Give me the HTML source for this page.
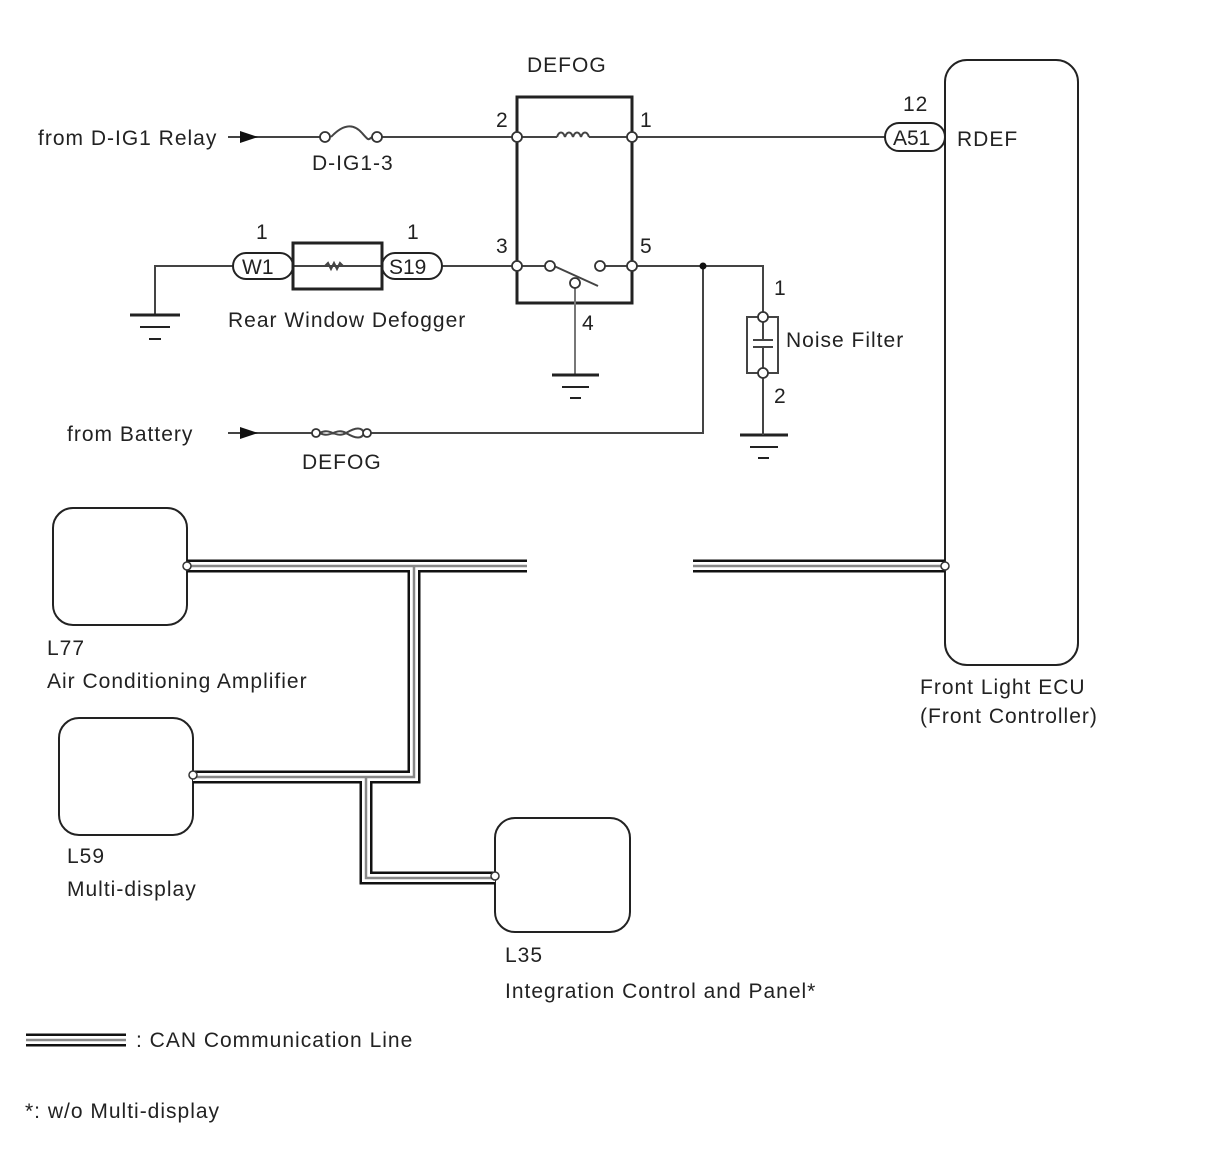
<!DOCTYPE html>
<html><head><meta charset="utf-8"><style>
html,body{margin:0;padding:0;background:#fff;}
svg{display:block;}
text{font-family:"Liberation Sans",Arial,sans-serif;font-size:21px;letter-spacing:1px;fill:#222;}
</style></head><body>
<svg width="1210" height="1156" viewBox="0 0 1210 1156" xmlns="http://www.w3.org/2000/svg">
<g fill="none" stroke="#444" stroke-width="2">
  <line x1="228" y1="137" x2="325" y2="137"/>
  <path d="M331 137 C345 122 355 125 362 133 S368 140 372 137"/>
  <line x1="382" y1="137" x2="513" y2="137"/>
  <line x1="521" y1="137" x2="557" y2="137"/>
  <path d="M557 137 c2-6 6-6 8 0 M565 137 c2-6 6-6 8 0 M573 137 c2-6 6-6 8 0 M581 137 c2-6 6-6 8 0"/>
  <line x1="589" y1="137" x2="628" y2="137"/>
  <line x1="636" y1="137" x2="885" y2="137"/>
  <rect x="517" y="97" width="115" height="206" stroke="#222" stroke-width="3"/>
  <path d="M155 315 V266 H233"/>
  <line x1="293" y1="266" x2="382" y2="266"/>
  <path d="M325 266 l3-3 3 6 3-6 3 6 3-6 3 3"/>
  <line x1="442" y1="266" x2="513" y2="266"/>
  <line x1="521" y1="266" x2="546" y2="266"/>
  <line x1="554" y1="266" x2="598" y2="286"/>
  <line x1="604" y1="266" x2="628" y2="266"/>
  <path d="M636 266 H763 V314"/>
  <path d="M575 287 V375" stroke="#777"/>
  <g stroke="#222">
    <line x1="130" y1="315" x2="180" y2="315" stroke-width="3"/>
    <line x1="140" y1="327" x2="170" y2="327"/>
    <line x1="149" y1="339" x2="161" y2="339"/>
    <line x1="552" y1="375" x2="599" y2="375" stroke-width="3"/>
    <line x1="562" y1="387" x2="589" y2="387"/>
    <line x1="570" y1="398" x2="581" y2="398"/>
    <line x1="740" y1="435" x2="788" y2="435" stroke-width="3"/>
    <line x1="750" y1="447" x2="778" y2="447"/>
    <line x1="758" y1="458" x2="769" y2="458"/>
  </g>
  <path d="M703 266 V433 H368"/>
  <line x1="228" y1="433" x2="315" y2="433"/>
  <path d="M320 433 c10-6 16 6 26 0 s16-6 18 0 M320 433 c10 6 16-6 26 0 s16 6 18 0"/>
  <path d="M763 377 V435"/>
  <path d="M759 317 H747 V373 H759 M767 317 H778 V373 H767"/>
  <path d="M763 322 V340 M753 340 H773 M753 347 H773 M763 347 V368"/>
  <rect x="233" y="253" width="60" height="26" rx="13" stroke="#222"/>
  <rect x="293" y="243" width="89" height="46" stroke="#222" stroke-width="3"/>
  <rect x="382" y="253" width="60" height="26" rx="13" stroke="#222"/>
  <rect x="885" y="123" width="60" height="28" rx="14" stroke="#222"/>
  <rect x="945" y="60" width="133" height="605" rx="22" stroke="#222"/>
  <rect x="53" y="508" width="134" height="117" rx="20" stroke="#222"/>
  <rect x="59" y="718" width="134" height="117" rx="20" stroke="#222"/>
  <rect x="495" y="818" width="135" height="114" rx="20" stroke="#222"/>
</g>
<polygon points="240,131 258,137 240,143" fill="#111"/>
<polygon points="240,427 258,433 240,439" fill="#111"/>
<circle cx="703" cy="266" r="3.5" fill="#111"/>
<g fill="#fff" stroke="#333" stroke-width="1.8">
  <circle cx="325" cy="137" r="5"/><circle cx="377" cy="137" r="5"/>
  <circle cx="517" cy="137" r="5"/><circle cx="632" cy="137" r="5"/>
  <circle cx="517" cy="266" r="5"/><circle cx="632" cy="266" r="5"/>
  <circle cx="550" cy="266" r="5"/><circle cx="600" cy="266" r="5"/>
  <circle cx="575" cy="283" r="5"/>
  <circle cx="316" cy="433" r="4"/><circle cx="367" cy="433" r="4"/>
  <circle cx="763" cy="317" r="5"/><circle cx="763" cy="373" r="5"/>
</g>
<g fill="none" stroke-linejoin="miter">
  <path d="M187 566 H527 M414 566 V777 H193 M366 777 V878 H495 M693 566 H945" stroke="#111" stroke-width="13"/>
  <path d="M187 566 H527 M414 566 V777 H193 M366 777 V878 H495 M693 566 H945" stroke="#fff" stroke-width="8"/>
  <path d="M187 566 H527 M414 566 V777 H193 M366 777 V878 H495 M693 566 H945" stroke="#888" stroke-width="2.5"/>
  <path d="M26 1040 H126" stroke="#111" stroke-width="13"/>
  <path d="M26 1040 H126" stroke="#fff" stroke-width="8"/>
  <path d="M26 1040 H126" stroke="#888" stroke-width="2.5"/>
</g>
<rect x="527" y="555" width="8" height="22" fill="#fff"/>
<rect x="686" y="555" width="7" height="22" fill="#fff"/>
<g fill="#fff" stroke="#333" stroke-width="1.5">
  <circle cx="187" cy="566" r="4"/><circle cx="193" cy="775" r="4"/>
  <circle cx="495" cy="876" r="4"/><circle cx="945" cy="566" r="4"/>
</g>
<text x="527" y="72">DEFOG</text>
<text x="38" y="145">from D-IG1 Relay</text>
<text x="312" y="170">D-IG1-3</text>
<text x="496" y="127">2</text>
<text x="640" y="127">1</text>
<text x="496" y="253">3</text>
<text x="640" y="253">5</text>
<text x="582" y="330">4</text>
<text x="256" y="239">1</text>
<text x="407" y="239">1</text>
<text x="242" y="274" style="letter-spacing:0">W1</text>
<text x="389" y="274" style="letter-spacing:0">S19</text>
<text x="893" y="145" style="letter-spacing:0">A51</text>
<text x="903" y="111">12</text>
<text x="957" y="146">RDEF</text>
<text x="228" y="327">Rear Window Defogger</text>
<text x="774" y="295">1</text>
<text x="786" y="347">Noise Filter</text>
<text x="774" y="403">2</text>
<text x="67" y="441">from Battery</text>
<text x="302" y="469">DEFOG</text>
<text x="47" y="655">L77</text>
<text x="47" y="688">Air Conditioning Amplifier</text>
<text x="67" y="863">L59</text>
<text x="67" y="896">Multi-display</text>
<text x="505" y="962">L35</text>
<text x="505" y="998">Integration Control and Panel*</text>
<text x="920" y="694">Front Light ECU</text>
<text x="920" y="723">(Front Controller)</text>
<text x="136" y="1047">: CAN Communication Line</text>
<text x="25" y="1118">*: w/o Multi-display</text>
</svg>
</body></html>
